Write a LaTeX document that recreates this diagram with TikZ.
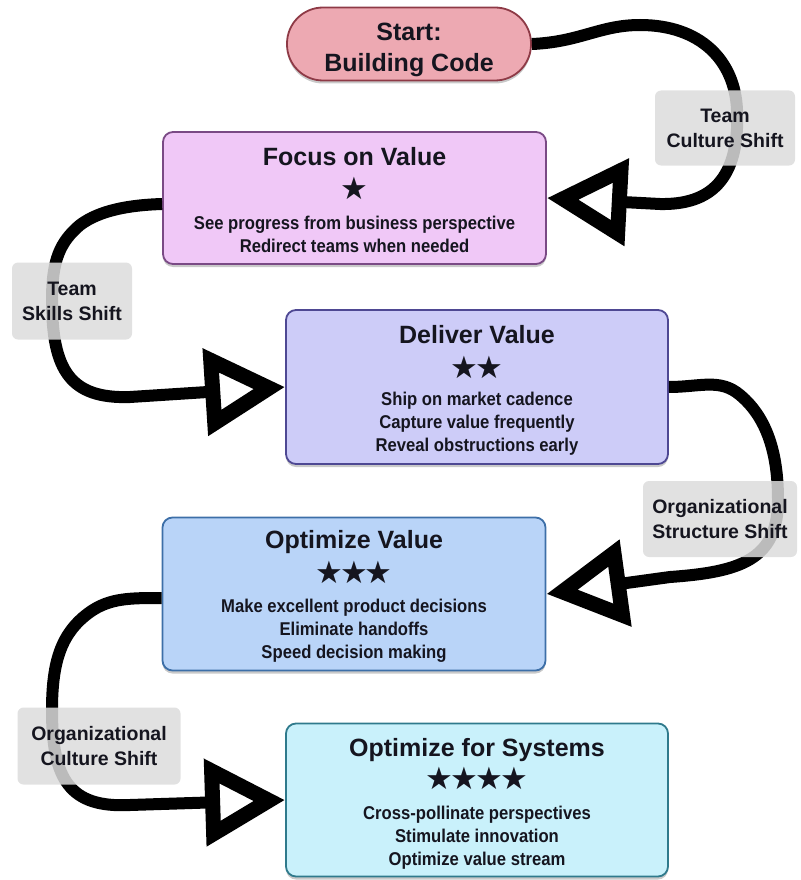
\documentclass[tikz,border=0pt]{standalone}
\usepackage{fontspec}
\setmainfont{Liberation Sans}
\newfontfamily\condfont[FakeStretch=0.9]{Liberation Sans}
\newfontfamily\starfont{DejaVu Sans}
\usetikzlibrary{arrows.meta,shadows}
\definecolor{startfill}{HTML}{EDA9B2}
\definecolor{startdraw}{HTML}{8E3A46}
\definecolor{focusfill}{HTML}{F0C8F7}
\definecolor{focusdraw}{HTML}{7A4A85}
\definecolor{delivfill}{HTML}{CDCCF8}
\definecolor{delivdraw}{HTML}{4E4893}
\definecolor{optfill}{HTML}{B9D4F8}
\definecolor{optdraw}{HTML}{3D6FA8}
\definecolor{sysfill}{HTML}{C9F1FB}
\definecolor{sysdraw}{HTML}{2F7A8C}
\definecolor{labelfill}{HTML}{DCDCDC}
\definecolor{ink}{HTML}{15151F}
\begin{document}
\begin{tikzpicture}[x=1pt,y=-1pt,
  box/.style={rectangle, rounded corners=10pt, line width=1.8pt, inner sep=0pt,
    drop shadow={shadow xshift=0pt, shadow yshift=-3pt, opacity=0.3, fill=black!70}},
  ttl/.style={font=\bfseries\fontsize{25}{30}\selectfont, inner sep=0pt, text=ink},
  stars/.style={font=\starfont\fontsize{31}{34}\selectfont, inner sep=0pt, text=ink},
  body/.style={font=\condfont\bfseries\fontsize{18.5}{23}\selectfont, align=center, inner sep=0pt, text=ink},
  lbl/.style={rectangle, rounded corners=6pt, fill=labelfill, fill opacity=0.85, text opacity=1,
    font=\bfseries\fontsize{19.5}{25}\selectfont, align=center, inner sep=0pt, text=ink},
  conn/.style={line width=12pt, -{Triangle[open, length=80pt, width=84pt, line width=15pt]}}
]
\useasboundingbox (0,0) rectangle (800,880);

% boxes
\node[box, rounded corners=36pt, fill=startfill, draw=startdraw, minimum width=244pt, minimum height=73pt] (start) at (409,44) {};
\node[ttl, align=center, font=\bfseries\fontsize{25}{31}\selectfont] (starttxt) at (409,50) {Start:\\Building Code};

\node[box, fill=focusfill, draw=focusdraw, minimum width=383pt, minimum height=132pt] (focus) at (354.5,198) {};
\node[ttl] (focust) at (354.5,157) {Focus on Value};
\node[stars] (focuss) at (354.5,188) {★};
\node[body] (focusb) at (354.5,234) {See progress from business perspective\\Redirect teams when needed};

\node[box, fill=delivfill, draw=delivdraw, minimum width=382pt, minimum height=154pt] (deliver) at (477,387) {};
\node[ttl] (delivert) at (477,335) {Deliver Value};
\node[stars] (delivers) at (477,367) {★\kern-3pt★};
\node[body] (deliverb) at (477,424) {Ship on market cadence\\Capture value frequently\\Reveal obstructions early};

\node[box, fill=optfill, draw=optdraw, minimum width=383pt, minimum height=153pt] (optv) at (354,594) {};
\node[ttl] (optvt) at (354,542) {Optimize Value};
\node[stars] (optvs) at (354,572) {★\kern-3pt★\kern-3pt★};
\node[body] (optvb) at (354,631) {Make excellent product decisions\\Eliminate handoffs\\Speed decision making};

\node[box, fill=sysfill, draw=sysdraw, minimum width=382pt, minimum height=153pt] (sys) at (477,800) {};
\node[ttl] (syst) at (477,750) {Optimize for Systems};
\node[stars] (syss) at (477,778) {★\kern-3pt★\kern-3pt★\kern-3pt★};
\node[body] (sysb) at (477,838) {Cross-pollinate perspectives\\Stimulate innovation\\Optimize value stream};

% connectors
\draw[conn] (start.east) .. controls (580,42) and (600,25) .. (640,25)
  .. controls (700,25) and (735,60) .. (737,110)
  .. controls (740,180) and (710,205) .. (660,204) -- (focus.east);
\draw[conn] ([yshift=-6pt]focus.west) .. controls (130,205) and (100,210) .. (80,225)
  .. controls (60,242) and (52,260) .. (52,300)
  .. controls (52,370) and (70,399) .. (130,397) -- (deliver.west);
\draw[conn] (deliver.east) .. controls (700,387) and (720,378) .. (740,395)
  .. controls (770,420) and (778,460) .. (778,500)
  .. controls (778,560) and (740,572) .. (670,577) -- (optv.east);
\draw[conn] ([yshift=-4pt]optv.west) .. controls (130,598) and (110,598) .. (90,612)
  .. controls (62,632) and (52,660) .. (52,710)
  .. controls (52,780) and (70,808) .. (130,805) -- (sys.west);

% labels
\node[lbl, minimum width=140pt, minimum height=75pt] (l1) at (725,128) {Team\\Culture Shift};
\node[lbl, minimum width=120pt, minimum height=77pt] (l2) at (72,301) {Team\\Skills Shift};
\node[lbl, minimum width=154pt, minimum height=76pt] (l3) at (720,519) {Organizational\\Structure Shift};
\node[lbl, minimum width=163pt, minimum height=77pt] (l4) at (99,746) {Organizational\\Culture Shift};
\end{tikzpicture}
\end{document}
